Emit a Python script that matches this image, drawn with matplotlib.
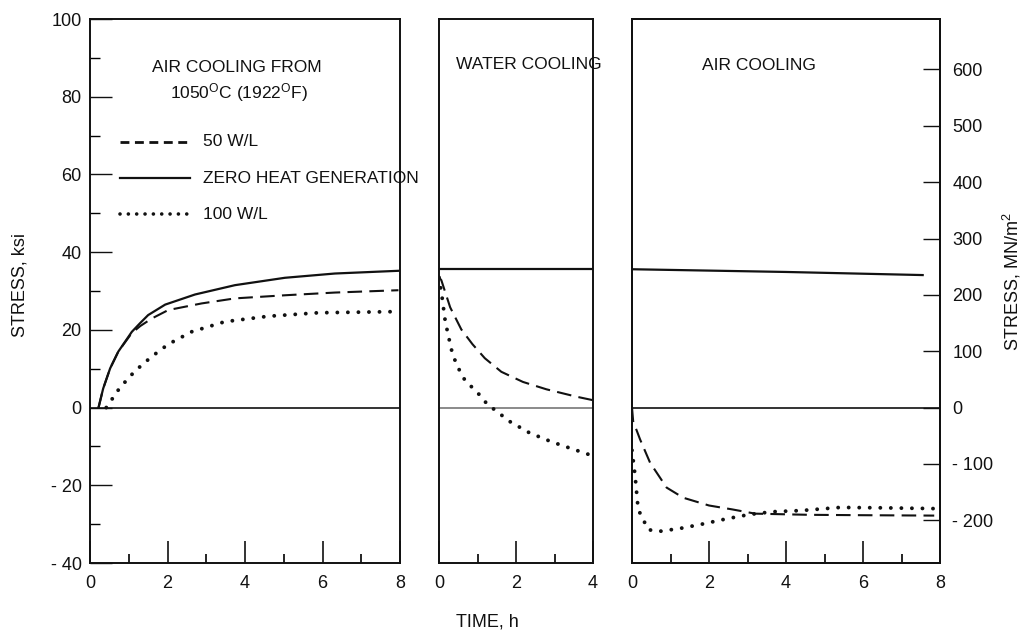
import matplotlib
matplotlib.use("Agg")
import matplotlib.pyplot as plt
from matplotlib.ticker import MultipleLocator, FixedLocator

plt.rcParams['font.family'] = ['Liberation Sans', 'DejaVu Sans']
plt.rcParams['mathtext.default'] = 'regular'

# air cooling from 1050 C, stress in ksi vs time in h
air_t_zero = [0.22, 0.34, 0.52, 0.73, 1.08, 1.29, 1.5, 1.94, 2.71, 3.74, 5.03, 6.32, 7.96]
air_s_zero = [0, 4.9, 10.1, 14.4, 19.5, 21.7, 23.8, 26.5, 29.1, 31.5, 33.4, 34.5, 35.2]
air_t_50 = [0.22, 0.34, 0.52, 0.73, 1.08, 1.3, 1.59, 2.02, 2.88, 3.74, 5.03, 6.32, 7.96]
air_s_50 = [0, 4.9, 10.1, 14.4, 19.2, 21.0, 22.9, 25.1, 26.8, 28.1, 28.9, 29.6, 30.2]
air_t_100 = [0.42, 0.77, 1.16, 1.59, 2.02, 2.62, 3.48, 4.6, 5.89, 7.96]
air_s_100 = [0, 5.1, 9.4, 13.1, 16.3, 19.5, 22.1, 23.5, 24.4, 24.7]

# water cooling
water_t_zero = [0, 4]
water_s_zero = [35.6, 35.6]
water_t_50 = [0, 0.06, 0.29, 0.58, 0.87, 1.19, 1.62, 2.18, 2.79, 3.57, 4.0]
water_s_50 = [33.5, 32.8, 25.8, 20.1, 16.3, 12.7, 9.2, 6.6, 4.7, 2.8, 1.9]
water_t_100 = [0, 0.09, 0.15, 0.21, 0.32, 0.41, 0.54, 0.67, 0.84, 1.06, 1.25, 1.45,
               1.84, 2.35, 2.92, 3.48, 3.96]
water_s_100 = [33.5, 27.7, 23.0, 20.0, 15.0, 12.3, 9.4, 7.1, 5.4, 3.2, 0.9, -0.6,
               -3.6, -6.5, -8.8, -10.7, -12.3]

# second air cooling
air2_t_zero = [0, 4, 7.55]
air2_s_zero = [35.6, 34.9, 34.1]
air2_t_50 = [0, 0.03, 0.21, 0.47, 0.9, 1.33, 2.0, 2.6, 3.2, 4.6, 6.0, 7.85]
air2_s_50 = [0, -3.5, -8.2, -14.2, -20.6, -23.2, -25.2, -26.2, -27.3, -27.6, -27.7, -27.8]
air2_t_100 = [0, 0.08, 0.16, 0.42, 0.68, 1.25, 1.77, 2.47, 3.06, 3.66, 4.4, 5.4, 6.5, 7.85]
air2_s_100 = [-11, -17.5, -26.2, -31.4, -31.9, -31.1, -30.1, -28.6, -27.5, -26.8, -26.5,
              -25.7, -25.8, -26.0]

ksi_ticks = [100, 80, 60, 40, 20, 0, -20, -40]
ksi_labels = ['100', '80', '60', '40', '20', '0', '- 20', '- 40']
mpa_ticks = [600, 500, 400, 300, 200, 100, 0, -100, -200]
mpa_labels = ['600', '500', '400', '300', '200', '100', '0', '- 100', '- 200']
KSI_TO_MPA = 6.895

ink = '#111111'
FS = 13
TFS = 12.5

solid = dict(color=ink, lw=1.6, ls='-')
dashed = dict(color=ink, lw=1.5, ls=(0, (7, 3.5)))
dotted = dict(color=ink, lw=2.8, ls=(0, (0.01, 2.7)), dash_capstyle='round')

W, H = 1021, 634
fig = plt.figure(figsize=(W / 100, H / 100), dpi=100)


def box(x0, x1):
    return [x0 / W, (H - 563) / H, (x1 - x0) / W, 544 / H]


ax1 = fig.add_axes(box(90, 400))
ax2 = fig.add_axes(box(439, 593))
ax3 = fig.add_axes(box(632, 940))

for ax, tmax in [(ax1, 8), (ax2, 4), (ax3, 8)]:
    ax.set_xlim(0, tmax)
    ax.set_ylim(-40, 100)
    for sp in ax.spines.values():
        sp.set_linewidth(1.4)
        sp.set_color(ink)
    ax.xaxis.set_major_locator(MultipleLocator(2))
    ax.xaxis.set_minor_locator(MultipleLocator(1))
    ax.tick_params(axis='x', which='major', direction='in', length=16, width=1.2,
                   pad=9, labelsize=FS, colors=ink)
    ax.tick_params(axis='x', which='minor', direction='in', length=6.5, width=1.2)

# left panel y axis in ksi
ax1.yaxis.set_major_locator(FixedLocator(ksi_ticks))
ax1.set_yticklabels(ksi_labels)
ax1.yaxis.set_minor_locator(MultipleLocator(10))
ax1.tick_params(axis='y', which='major', direction='in', length=16, width=1.0, pad=6,
                labelsize=FS, colors=ink)
ax1.tick_params(axis='y', which='minor', direction='in', length=7, width=1.0)

# zero stress lines
ax1.axhline(0, color=ink, lw=1.2)
ax2.axhline(0, color='#777777', lw=1.2)
ax3.axhline(0, color=ink, lw=1.2)

ax1.plot(air_t_zero, air_s_zero, **solid)
ax1.plot(air_t_50, air_s_50, **dashed)
ax1.plot(air_t_100, air_s_100, **dotted)

ax2.plot(water_t_zero, water_s_zero, **solid)
ax2.plot(water_t_50, water_s_50, **dashed)
ax2.plot(water_t_100, water_s_100, **dotted)

ax3.plot(air2_t_zero, air2_s_zero, **solid)
ax3.plot(air2_t_50, air2_s_50, **dashed)
ax3.plot(air2_t_100, air2_s_100, **dotted)

# right hand scale in MN/m^2
ax3r = ax3.twinx()
ax3r.set_ylim(-40 * KSI_TO_MPA, 100 * KSI_TO_MPA)
ax3r.yaxis.set_major_locator(FixedLocator(mpa_ticks))
ax3r.set_yticklabels(mpa_labels)
ax3r.tick_params(axis='y', direction='in', length=12, width=1.0, pad=9,
                 labelsize=FS, colors=ink)
for sp in ax3r.spines.values():
    sp.set_linewidth(1.4)
    sp.set_color(ink)

# no stress ticks on the inner panels
ax2.set_yticks([])
ax3.set_yticks([])

# panel titles
ax1.text(3.8, 87.4, 'AIR COOLING FROM', ha='center', va='center', fontsize=TFS, color=ink)
ax1.text(3.85, 81, '1050$^{O}$C (1922$^{O}$F)', ha='center', va='center',
         fontsize=TFS, color=ink)
ax2.text(0.45, 88.4, 'WATER COOLING', ha='left', va='center', fontsize=TFS, color=ink,
         clip_on=False)
ax3.text(1.82, 88, 'AIR COOLING', ha='left', va='center', fontsize=TFS, color=ink)

# key
key_x = [0.77, 2.58]
ax1.plot(key_x, [68.4, 68.4], color=ink, lw=2.0, ls=(0, (3.2, 2.0)))
ax1.plot(key_x, [59.0, 59.0], color=ink, lw=1.6)
ax1.plot(key_x, [49.8, 49.8], color=ink, lw=2.6, ls=(0, (0.01, 2.3)),
         dash_capstyle='round')
ax1.text(2.92, 68.4, '50 W/L', va='center', fontsize=TFS, color=ink)
ax1.text(2.92, 59.0, 'ZERO HEAT GENERATION', va='center', fontsize=TFS, color=ink,
         clip_on=False)
ax1.text(2.92, 49.8, '100 W/L', va='center', fontsize=TFS, color=ink)

fig.text(20 / W, 1 - 285 / H, 'STRESS, ksi', rotation=90, ha='center', va='center',
         fontsize=FS, color=ink)
fig.text(1012 / W, 1 - 282 / H, 'STRESS, MN/m$^2$', rotation=90, ha='center',
         va='center', fontsize=FS, color=ink)
fig.text(487 / W, 1 - 622 / H, 'TIME, h', ha='center', va='center', fontsize=FS,
         color=ink)

fig.savefig('out.png', dpi=100, facecolor='white')
